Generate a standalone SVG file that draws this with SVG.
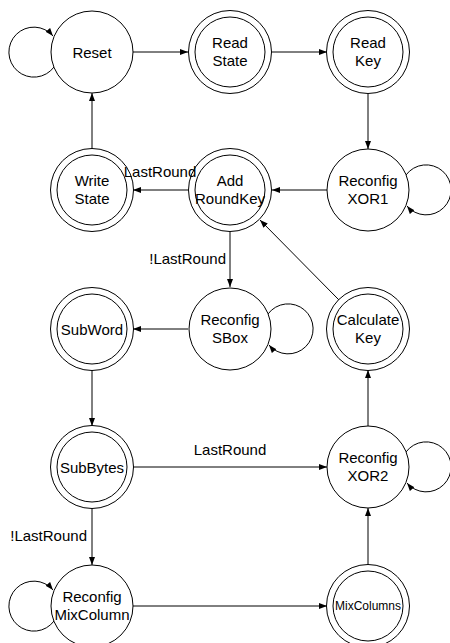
<svg xmlns="http://www.w3.org/2000/svg" width="450" height="643" viewBox="0 0 450 643">
<style>
.n{fill:#fff;stroke:#000;stroke-width:1}
.t{font-family:"Liberation Sans",Arial,sans-serif;font-size:15px;fill:#000;text-anchor:middle}
.s{font-size:12px}
.c{fill:none;stroke:#000;stroke-width:1;marker-end:url(#a)}
.l{font-family:"Liberation Sans",Arial,sans-serif;font-size:15px;fill:#000}
</style>
<defs>
<marker id="a" markerWidth="8" markerHeight="6" refX="8" refY="3" orient="auto" markerUnits="userSpaceOnUse">
<path d="M0,0 L8,3 L0,6 z" fill="#000"/>
</marker>
</defs>
<rect width="450" height="643" fill="#fff"/>
<g id="connectors">
<path class="c" d="M133,52 L188,52"/>
<path class="c" d="M272,52 L327,52"/>
<path class="c" d="M368,94 L368,149"/>
<path class="c" d="M327,190 L272,190"/>
<path class="c" d="M188,190 L133,190"/>
<path class="c" d="M92,149 L92,93"/>
<path class="c" d="M230,232 L230,287"/>
<path class="c" d="M339,300 L260,220"/>
<path class="c" d="M188,329 L133,329"/>
<path class="c" d="M92,370 L92,426"/>
<path class="c" d="M133,467 L327,467"/>
<path class="c" d="M368,426 L368,370"/>
<path class="c" d="M92,508 L92,565"/>
<path class="c" d="M133,606 L327,606"/>
<path class="c" d="M368,565 L368,508"/>
<path class="c" d="M54,67 A25,25 0 1 1 53,36"/>
<path class="c" d="M406,175 A25,25 0 1 1 407,206"/>
<path class="c" d="M268,314 A25,25 0 1 1 269,345"/>
<path class="c" d="M406,452 A25,25 0 1 1 407,483"/>
<path class="c" d="M54,621 A25,25 0 1 1 53,590"/>
</g>
<g id="reset"><circle class="n" cx="92" cy="52" r="41"/><text class="t" x="92" y="58">Reset</text></g>
<g id="readstate"><circle class="n" cx="230" cy="52" r="41.5"/><circle class="n" cx="230" cy="52" r="35"/><text class="t" x="230" y="48">Read</text><text class="t" x="230" y="66">State</text></g>
<g id="readkey"><circle class="n" cx="368" cy="52" r="41.5"/><circle class="n" cx="368" cy="52" r="35"/><text class="t" x="368" y="48">Read</text><text class="t" x="368" y="66">Key</text></g>
<g id="writestate"><circle class="n" cx="92" cy="190" r="41.5"/><circle class="n" cx="92" cy="190" r="35"/><text class="t" x="92" y="186">Write</text><text class="t" x="92" y="204">State</text></g>
<g id="addroundkey"><circle class="n" cx="230" cy="190" r="41.5"/><circle class="n" cx="230" cy="190" r="35"/><text class="t" x="230" y="186">Add</text><text class="t" x="230" y="204">RoundKey</text></g>
<g id="reconfigxor1"><circle class="n" cx="368" cy="190" r="41"/><text class="t" x="368" y="186">Reconfig</text><text class="t" x="368" y="204">XOR1</text></g>
<g id="subword"><circle class="n" cx="92" cy="329" r="41.5"/><circle class="n" cx="92" cy="329" r="35"/><text class="t" x="92" y="335">SubWord</text></g>
<g id="reconfigsbox"><circle class="n" cx="230" cy="329" r="41"/><text class="t" x="230" y="325">Reconfig</text><text class="t" x="230" y="343">SBox</text></g>
<g id="calculatekey"><circle class="n" cx="368" cy="329" r="41.5"/><circle class="n" cx="368" cy="329" r="35"/><text class="t" x="368" y="325">Calculate</text><text class="t" x="368" y="343">Key</text></g>
<g id="subbytes"><circle class="n" cx="92" cy="467" r="41.5"/><circle class="n" cx="92" cy="467" r="35"/><text class="t" x="92" y="473">SubBytes</text></g>
<g id="reconfigxor2"><circle class="n" cx="368" cy="467" r="41"/><text class="t" x="368" y="463">Reconfig</text><text class="t" x="368" y="481">XOR2</text></g>
<g id="reconfigmixcolumn"><circle class="n" cx="92" cy="606" r="41"/><text class="t" x="92" y="602">Reconfig</text><text class="t" x="92" y="620">MixColumn</text></g>
<g id="mixcolumns"><circle class="n" cx="368" cy="606" r="41.5"/><circle class="n" cx="368" cy="606" r="35"/><text class="t s" x="368" y="610">MixColumns</text></g>
<g id="labels">
<text class="l" x="160" y="177" text-anchor="middle">LastRound</text>
<text class="l" x="226" y="264" text-anchor="end">!LastRound</text>
<text class="l" x="230" y="455" text-anchor="middle">LastRound</text>
<text class="l" x="87" y="541" text-anchor="end">!LastRound</text>
</g>
</svg>
